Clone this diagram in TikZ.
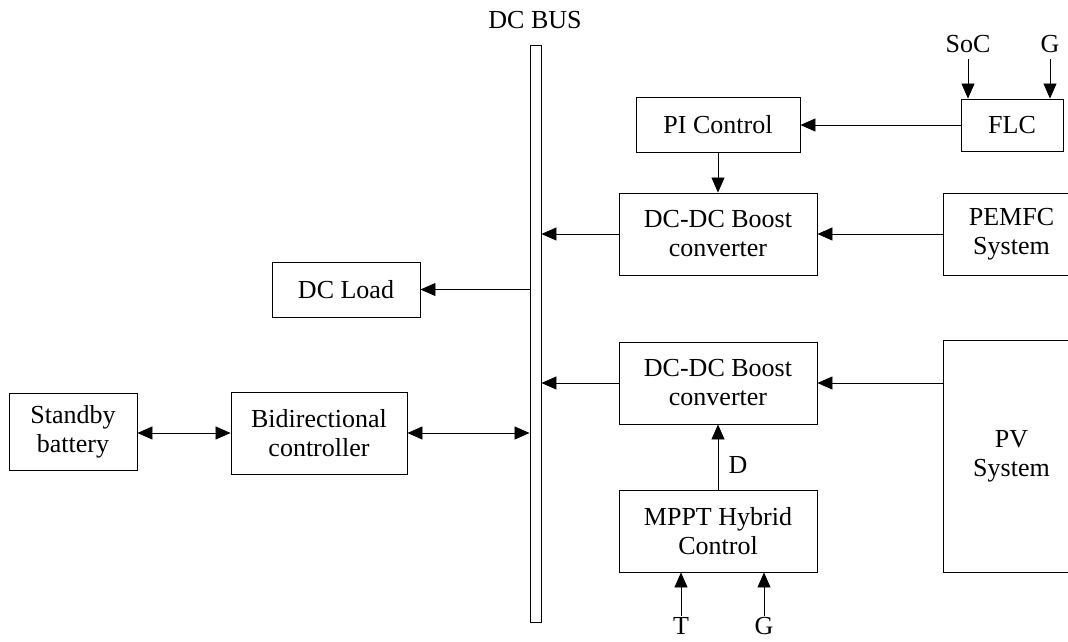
\documentclass[tikz,border=0pt]{standalone}
\usepackage{fontspec}
\setmainfont{Liberation Serif}
\usetikzlibrary{arrows.meta}
\begin{document}
\begin{tikzpicture}[x=1pt,y=-1pt,
  box/.style={draw, line width=0.9pt, inner sep=0pt, align=center, font=\fontsize{26}{29}\selectfont},
  lbl/.style={inner sep=1pt, font=\fontsize{26}{29}\selectfont},
  arr/.style={draw, line width=0.8pt, -{Triangle[length=15pt,width=13pt]}},
  darr/.style={draw, line width=0.8pt, {Triangle[length=15pt,width=13pt]}-{Triangle[length=15pt,width=13pt]}}]
\useasboundingbox (0,0) rectangle (1068,641);
\clip (0,0) rectangle (1068,641);
% bus
\node[draw, line width=0.9pt, minimum width=11pt, minimum height=577pt, inner sep=0pt] (bus) at (535.5,333.5) {};
\node[lbl] (buslbl) at (535,20) {DC BUS};
% boxes
\node[box, minimum width=164pt, minimum height=55pt] (pi) at (718,125) {PI Control};
\node[box, minimum width=102pt, minimum height=52pt] (flc) at (1012,125) {FLC};
\node[box, minimum width=198pt, minimum height=82pt] (dc1) at (718,234) {DC-DC Boost\\converter};
\node[box, minimum width=137pt, minimum height=82pt] (pem) at (1011.5,234) {PEMFC\\System};
\node[box, minimum width=148pt, minimum height=55pt] (load) at (346,289.5) {DC Load};
\node[box, minimum width=198pt, minimum height=82pt] (dc2) at (718,383) {DC-DC Boost\\converter};
\node[box, minimum width=137pt, minimum height=232pt] (pv) at (1011.5,456) {PV\\System};
\node[box, minimum width=198pt, minimum height=82pt] (mppt) at (718,531) {MPPT Hybrid\\Control};
\node[box, minimum width=128pt, minimum height=77pt] (bat) at (73,432) {Standby\\battery};
\node[box, minimum width=176pt, minimum height=82pt] (bid) at (319,433) {Bidirectional\\controller};
% input labels
\node[lbl] (soc) at (968,44) {SoC};
\node[lbl] (g1) at (1050,44) {G};
\node[lbl] (t) at (681,626) {T};
\node[lbl] (g2) at (764,626) {G};
\node[lbl] (d) at (738,465) {D};
\coordinate (socs) at (968,59);
\coordinate (g1s) at (1050,59);
\coordinate (ts) at (681,616);
\coordinate (g2s) at (764,616);
% connectors
\draw[arr] (socs) -- (socs |- flc.north);
\draw[arr] (g1s) -- (g1s |- flc.north);
\draw[arr] (flc.west) -- (pi.east);
\draw[arr] (pi.south) -- (dc1.north);
\draw[arr] (pem.west) -- (dc1.east);
\draw[arr] (dc1.west) -- (dc1.west -| bus.east);
\draw[arr] (load.east -| bus.west) -- (load.east);
\draw[arr] (dc2.east -| pv.west) -- (dc2.east);
\draw[arr] (dc2.west) -- (dc2.west -| bus.east);
\draw[arr] (mppt.north) -- (dc2.south);
\draw[arr] (ts) -- (ts |- mppt.south);
\draw[arr] (g2s) -- (g2s |- mppt.south);
\draw[darr] (bat.east |- bid.east) -- (bid.west);
\draw[darr] (bid.east) -- (bid.east -| bus.west);
\end{tikzpicture}
\end{document}
